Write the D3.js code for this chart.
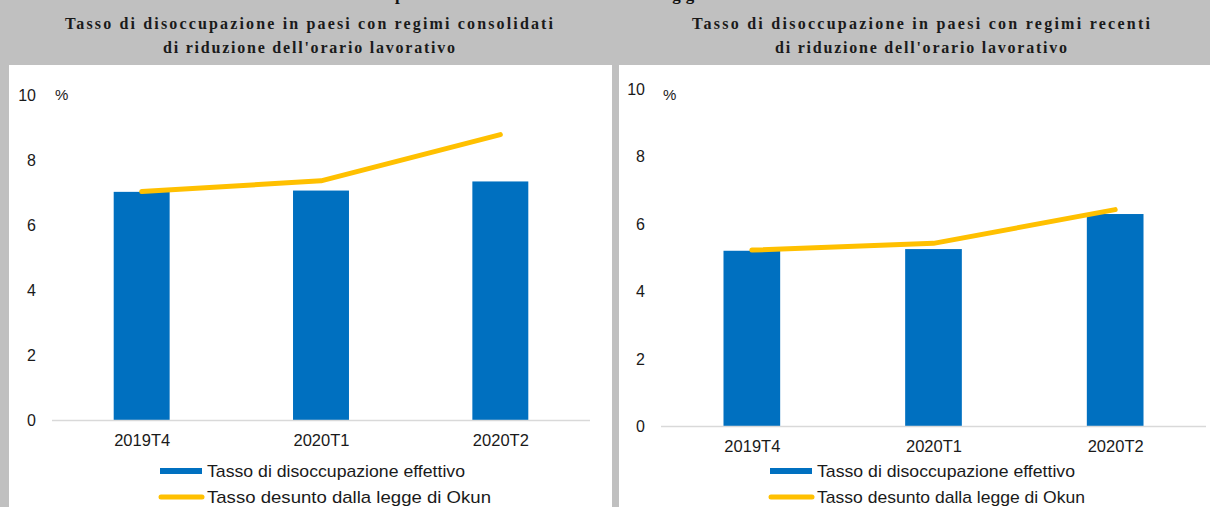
<!DOCTYPE html>
<html>
<head>
<meta charset="utf-8">
<script src="https://cdn.jsdelivr.net/npm/d3@7"></script>
<style>
  body { margin: 0; background: #c0c0c0; }
  svg { display: block; }
</style>
</head>
<body>
<div id="chart"></div>
<script>
(function () {
    'use strict';
    var width = 1210;
    var height = 507;

    // data
    var categories = ['2019T4', '2020T1', '2020T2'];
    var consolidatiEffettivo = [7.02, 7.06, 7.34];
    var consolidatiOkun = [7.03, 7.36, 8.78];
    var recentiEffettivo = [5.2, 5.25, 6.29];
    var recentiOkun = [5.22, 5.42, 6.42];
    var yTicks = [0, 2, 4, 6, 8, 10];
    var legendLabels = ['Tasso di disoccupazione effettivo', 'Tasso desunto dalla legge di Okun'];
    var topTitle = 'previsto in base alla legge di Okun';

    var blue = '#0070c0';
    var yellow = '#ffc000';

    var svg = d3.select('#chart')
        .append('svg')
        .attr('width', width)
        .attr('height', height);

    svg.append('rect')
        .attr('width', width).attr('height', height)
        .attr('fill', '#c0c0c0');

    // main title, cut off by the top edge like in the source
    svg.append('text')
        .attr('x', 395).attr('y', 0)
        .attr('textLength', 415).attr('lengthAdjust', 'spacing')
        .attr('font-family', 'Liberation Serif, serif')
        .attr('font-weight', 'bold')
        .attr('font-size', 17)
        .attr('fill', '#111')
        .text(topTitle);

    var panels = [
        {
            title: ['Tasso di disoccupazione in paesi con regimi consolidati', "di riduzione dell'orario lavorativo"],
            titleX: 309, titleW: [488, 292],
            box: [9, 65, 603, 442],
            xRange: [52, 590], yRange: [420, 95],
            tickX: 36, pctX: 55, pctY: 100,
            legendX: 160, legendW: [258, 284],
            bars: consolidatiEffettivo, line: consolidatiOkun
        },
        {
            title: ['Tasso di disoccupazione in paesi con regimi recenti', "di riduzione dell'orario lavorativo"],
            titleX: 921, titleW: [458, 292],
            box: [619, 65, 591, 442],
            xRange: [661, 1206], yRange: [426, 89],
            tickX: 645, pctX: 663, pctY: 100,
            legendX: 770, legendW: [258, 268],
            bars: recentiEffettivo, line: recentiOkun
        }
    ];

    panels.forEach(function (p) {
        var g = svg.append('g');

        g.selectAll('text.title')
            .data(p.title)
            .enter()
            .append('text')
            .attr('class', 'title')
            .attr('x', p.titleX)
            .attr('y', function (d, i) { return 29 + i * 24; })
            .attr('text-anchor', 'middle')
            .attr('textLength', function (d, i) { return p.titleW[i]; })
            .attr('lengthAdjust', 'spacing')
            .attr('font-family', 'Liberation Serif, serif')
            .attr('font-weight', 'bold')
            .attr('font-size', 16)
            .attr('fill', '#1a1a1a')
            .text(function (d) { return d; });

        g.append('rect')
            .attr('x', p.box[0]).attr('y', p.box[1])
            .attr('width', p.box[2]).attr('height', p.box[3])
            .attr('fill', '#fff');

        var x = d3.scaleBand().domain(categories).range(p.xRange).paddingInner(0.688).paddingOuter(0.344);
        var xc = d3.scalePoint().domain(categories).range(p.xRange).padding(0.5);
        var y = d3.scaleLinear().domain([0, 10]).range(p.yRange);

        // y tick labels
        g.selectAll('text.ytick')
            .data(yTicks)
            .enter()
            .append('text')
            .attr('class', 'ytick')
            .attr('x', p.tickX)
            .attr('y', function (d) { return y(d) + 6; })
            .attr('text-anchor', 'end')
            .attr('font-family', 'Liberation Sans, Arial, sans-serif')
            .attr('font-size', 16)
            .attr('fill', '#1a1a1a')
            .text(function (d) { return d; });

        g.append('text')
            .attr('x', p.pctX).attr('y', p.pctY)
            .attr('font-family', 'Liberation Sans, Arial, sans-serif')
            .attr('font-size', 15)
            .attr('fill', '#1a1a1a')
            .text('%');

        // bars
        g.selectAll('rect.bar')
            .data(p.bars)
            .enter()
            .append('rect')
            .attr('class', 'bar')
            .attr('x', function (d, i) { return x(categories[i]); })
            .attr('width', x.bandwidth())
            .attr('y', function (d) { return y(d); })
            .attr('height', function (d) { return y(0) - y(d); })
            .attr('fill', blue);

        // baseline
        g.append('line')
            .attr('x1', p.xRange[0]).attr('x2', p.xRange[1])
            .attr('y1', y(0) + 0.5).attr('y2', y(0) + 0.5)
            .attr('stroke', '#d9d9d9').attr('stroke-width', 1.5);

        // category labels
        var xAxis = d3.axisBottom(xc).tickSize(0).tickPadding(0);
        var ax = g.append('g')
            .attr('transform', 'translate(0,' + (y(0) + 26) + ')')
            .call(xAxis);
        ax.select('.domain').remove();
        ax.selectAll('text')
            .attr('dy', 0)
            .attr('font-family', 'Liberation Sans, Arial, sans-serif')
            .attr('font-size', 16.5)
            .attr('fill', '#1a1a1a');

        // Okun line
        var line = d3.line()
            .x(function (d, i) { return xc(categories[i]); })
            .y(function (d) { return y(d); });
        g.append('path')
            .datum(p.line)
            .attr('d', line)
            .attr('fill', 'none')
            .attr('stroke', yellow)
            .attr('stroke-width', 5)
            .attr('stroke-linecap', 'round')
            .attr('stroke-linejoin', 'round');

        // legend
        g.append('rect')
            .attr('x', p.legendX).attr('y', 468)
            .attr('width', 42).attr('height', 6)
            .attr('fill', blue);
        g.append('line')
            .attr('x1', p.legendX + 1).attr('x2', p.legendX + 42)
            .attr('y1', 497).attr('y2', 497)
            .attr('stroke', yellow).attr('stroke-width', 5)
            .attr('stroke-linecap', 'round');
        g.selectAll('text.legend')
            .data(legendLabels)
            .enter()
            .append('text')
            .attr('class', 'legend')
            .attr('x', p.legendX + 47)
            .attr('y', function (d, i) { return 477 + i * 26; })
            .attr('textLength', function (d, i) { return p.legendW[i]; })
            .attr('lengthAdjust', 'spacingAndGlyphs')
            .attr('font-family', 'Liberation Sans, Arial, sans-serif')
            .attr('font-size', 17)
            .attr('fill', '#1a1a1a')
            .text(function (d) { return d; });
    });

}());
</script>
</body>
</html>
